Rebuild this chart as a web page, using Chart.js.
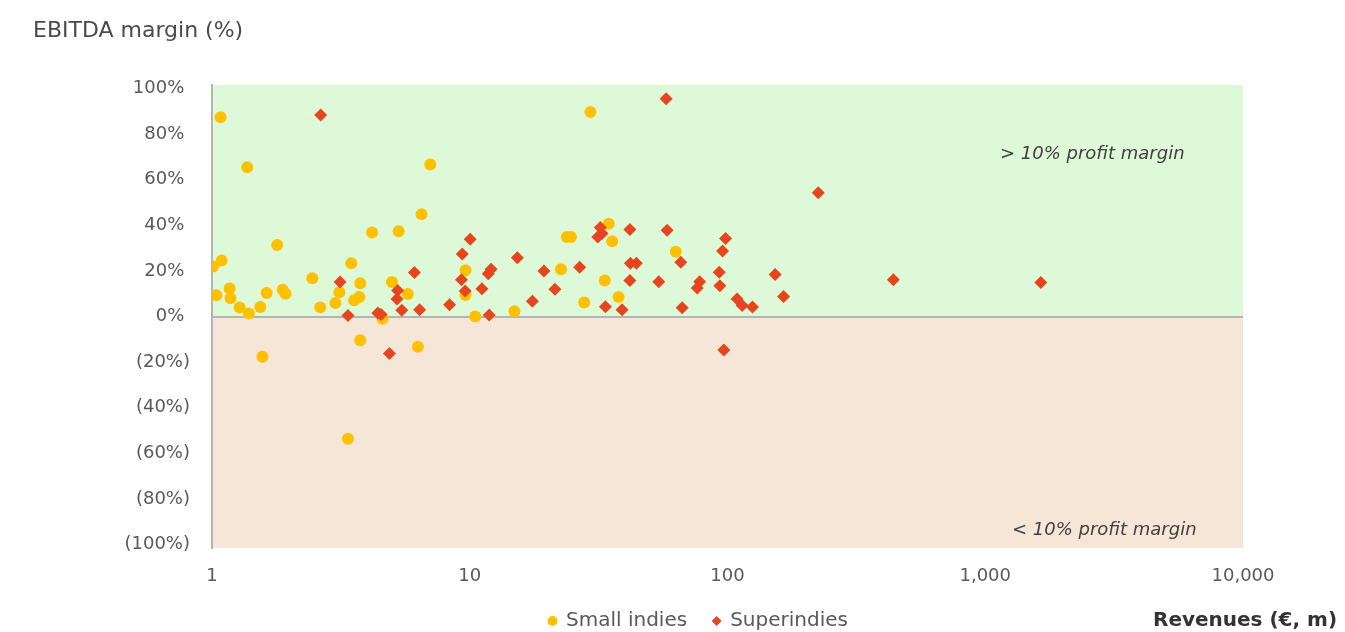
<!DOCTYPE html>
<html>
<head>
<meta charset="utf-8">
<script src="https://cdn.jsdelivr.net/npm/chart.js@4.4.1/dist/chart.umd.min.js"></script>
<style>
html,body{margin:0;padding:0;background:#fff;overflow:hidden;}
#wrap{position:relative;width:1345px;height:632px;}
canvas{position:absolute;left:0;top:0;}
.t{position:absolute;white-space:nowrap;font-family:'DejaVu Sans',sans-serif;}
</style>
</head>
<body>
<div id="wrap">
<canvas id="c" width="1345" height="632"></canvas>
<div class="t" style="left:33px;top:19px;font-size:22px;line-height:22px;color:#4a4a4a">EBITDA margin (%)</div>
<div class="t" style="left:1000px;top:144px;font-size:18px;line-height:18px;font-style:italic;color:#404040">&gt; 10% profit margin</div>
<div class="t" style="left:1012px;top:520px;font-size:18px;line-height:18px;font-style:italic;color:#404040">&lt; 10% profit margin</div>
<div class="t" style="left:1153px;top:609px;font-size:20px;line-height:20px;font-weight:bold;color:#333">Revenues (€, m)</div>
</div>
<script>
// ---- data (revenues in €m, EBITDA margin in %) ----
const seriesNames = ['Small indies', 'Superindies'];

const smallRevenue = [1.08, 1.37, 4.18, 5.3, 1.79, 1.09, 1.01, 3.47, 2.45, 3.76, 4.99, 1.04, 1.17, 1.18, 1.63, 1.88, 1.93, 1.28, 1.39, 1.54, 2.63, 3.01, 3.12, 3.56, 3.73, 29.4, 7.03, 6.5, 23.8, 24.7, 34.6, 35.7, 4.59, 5.75, 9.63, 9.63, 10.5, 14.9, 22.6, 27.8, 33.4, 37.8, 63, 1.57, 3.76, 6.29, 3.37];
const smallMargin  = [87.4, 65.4, 36.8, 37.4, 31.4, 24.5, 21.9, 23.3, 16.8, 14.6, 15.1, 9.3, 12.3, 8.0, 10.3, 11.7, 10.0, 3.9, 1.3, 4.2, 4.0, 5.9, 10.6, 7.1, 8.6, 89.7, 66.6, 44.8, 34.9, 34.9, 40.7, 33.0, -1.0, 9.9, 20.3, 9.4, 0.0, 2.3, 20.7, 6.1, 15.8, 8.6, 28.4, -17.6, -10.4, -13.3, -53.6];

const superRevenue = [2.64, 3.14, 3.37, 4.40, 4.53, 10.04, 9.35, 15.3, 32.1, 32.6, 31.4, 41.8, 42, 44.3, 41.8, 6.10, 5.25, 5.22, 5.45, 6.39, 8.35, 9.29, 9.6, 11.15, 11.8, 12.1, 11.9, 17.5, 19.4, 21.4, 26.7, 33.6, 39.0, 57.8, 225, 58.3, 98.3, 95.7, 65.9, 54.1, 78.0, 76.3, 92.9, 93.4, 153, 165, 440, 66.7, 109, 114, 125, 1643, 4.88, 96.8];
const superMargin  = [88.4, 15.1, 0.4, 1.5, 0.9, 33.9, 27.4, 25.8, 39.0, 36.4, 34.9, 38.1, 23.3, 23.3, 15.8, 19.3, 11.4, 7.7, 2.7, 3.0, 5.1, 16.1, 11.2, 12.2, 18.7, 20.7, 0.7, 6.7, 20.0, 12.0, 21.6, 4.3, 3.0, 95.5, 54.3, 37.8, 34.2, 28.7, 23.8, 15.2, 15.2, 12.5, 19.4, 13.5, 18.4, 8.8, 16.1, 3.8, 7.7, 4.8, 4.2, 14.9, -16.2, -14.7];

const xTickValues = [1, 10, 100, 1000, 10000];
const yTickValues = [-100, -80, -60, -40, -20, 0, 20, 40, 60, 80, 100];

// ---- helpers ----
const toPoints = (xs, ys) => xs.map((x, i) => ({ x: x, y: ys[i] }));
const fmtPct = v => (v < 0 ? '(' + Math.abs(v) + '%)' : v + '%\u00a0');

const bandsPlugin = {
  id: 'bands',
  beforeDraw(chart) {
    const { ctx, chartArea: a, scales: { y } } = chart;
    const z = y.getPixelForValue(0);
    ctx.save();
    ctx.fillStyle = '#ddf9d8';
    ctx.fillRect(a.left, a.top, a.right - a.left, z - a.top);
    ctx.fillStyle = '#f5e6d8';
    ctx.fillRect(a.left, z, a.right - a.left, a.bottom - z);
    ctx.restore();
  }
};
const layoutTweak = {
  id: 'layoutTweak',
  afterLayout(chart) {
    const l = chart.legend;
    if (l) { l.top += 9; l.bottom += 9; l.left += 27; l.right += 27; }
    const x = chart.scales.x;
    if (x) { x.bottom += 24; }
  }
};

Chart.defaults.font.family = "'DejaVu Sans', sans-serif";
Chart.defaults.color = '#595959';

new Chart(document.getElementById('c'), {
  type: 'scatter',
  data: {
    datasets: [
      {
        label: seriesNames[0],
        data: toPoints(smallRevenue, smallMargin),
        pointStyle: 'circle',
        pointRadius: 6,
        pointHoverRadius: 6,
        pointBorderWidth: 0,
        backgroundColor: '#ffc000',
        borderColor: '#ffc000',
        order: 1
      },
      {
        label: seriesNames[1],
        data: toPoints(superRevenue, superMargin),
        pointStyle: 'rectRot',
        pointRadius: 6.5,
        pointHoverRadius: 6.5,
        pointBorderWidth: 0,
        backgroundColor: '#e5461f',
        borderColor: '#e5461f',
        order: 0
      }
    ]
  },
  options: {
    responsive: false,
    animation: false,
    devicePixelRatio: 1,
    layout: { padding: { top: 85, left: 100, right: 102, bottom: 0 } },
    plugins: {
      tooltip: { enabled: false },
      legend: {
        position: 'bottom',
        labels: {
          usePointStyle: true,
          boxWidth: 7,
          boxHeight: 7,
          padding: 26,
          color: '#595959',
          font: { size: 20 },
          sort: (a, b) => a.datasetIndex - b.datasetIndex
        }
      }
    },
    scales: {
      x: {
        type: 'logarithmic',
        min: 1,
        max: 10000,
        grid: { display: false, drawTicks: false },
        border: { display: false },
        afterBuildTicks: s => { s.ticks = xTickValues.map(v => ({ value: v })); },
        afterFit: s => { s.height = 28; },
        ticks: {
          autoSkip: false,
          maxRotation: 0,
          padding: 18,
          color: '#595959',
          font: { size: 18 },
          callback: v => Number(v).toLocaleString('en-US')
        }
      },
      y: {
        type: 'linear',
        min: -101.5,
        max: 101.5,
        afterBuildTicks: s => { s.ticks = yTickValues.map(v => ({ value: v })); },
        afterFit: s => { s.width = 112; },
        grid: {
          drawTicks: false,
          lineWidth: 2,
          color: c => (c.tick && c.tick.value === 0 ? '#b4b4b4' : 'rgba(0,0,0,0)')
        },
        border: { display: true, color: '#b4b4b4', width: 2 },
        ticks: {
          padding: 22,
          color: '#595959',
          font: { size: 18 },
          callback: v => fmtPct(v)
        }
      }
    }
  },
  plugins: [bandsPlugin, layoutTweak]
});
</script>
</body>
</html>
